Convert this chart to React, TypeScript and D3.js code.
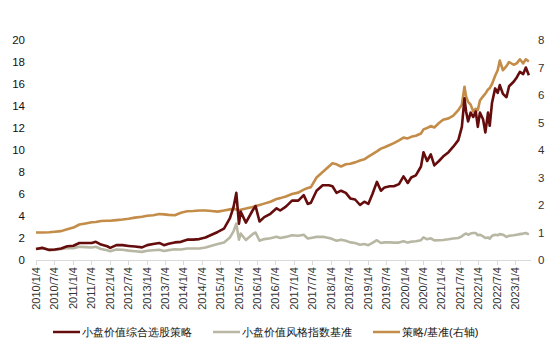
import React from "react";
import * as d3 from "d3";

// ---- data ----
const dates: string[] = [
  "2010-01-04","2010-03-10","2010-05-15","2010-07-10","2010-09-10","2010-11-10",
  "2011-01-10","2011-03-10","2011-05-10","2011-07-10","2011-08-20","2011-10-10","2011-12-10",
  "2012-01-10","2012-03-10","2012-05-10","2012-07-10","2012-09-10","2012-11-20",
  "2013-01-10","2013-03-10","2013-05-10","2013-06-25","2013-08-10","2013-10-10","2013-12-10",
  "2014-02-10","2014-04-10","2014-06-10","2014-08-10","2014-10-10","2014-12-10",
  "2015-02-10","2015-04-10","2015-05-15","2015-06-12","2015-07-08","2015-07-25","2015-09-15","2015-11-20","2015-12-20",
  "2016-01-28","2016-03-15","2016-05-15","2016-07-15","2016-08-20","2016-10-15","2016-12-15",
  "2017-02-15","2017-04-10","2017-05-20","2017-06-20","2017-08-15","2017-10-15","2017-12-15",
  "2018-01-20","2018-03-01","2018-04-15","2018-06-01","2018-07-15","2018-09-01","2018-10-20","2018-12-01",
  "2019-01-10","2019-02-20","2019-04-05","2019-05-15","2019-06-20","2019-08-10","2019-09-20","2019-11-10","2019-12-25",
  "2020-02-05","2020-03-10","2020-04-25","2020-06-15","2020-07-10","2020-08-15","2020-09-20","2020-10-25","2020-12-10",
  "2021-01-20","2021-03-15","2021-05-01","2021-06-20","2021-07-25","2021-08-20","2021-09-05","2021-09-25","2021-10-20",
  "2021-11-15","2021-12-10","2021-12-30",
  "2022-01-20","2022-02-20","2022-03-15","2022-04-10","2022-04-27","2022-05-20","2022-06-20","2022-07-15","2022-08-05",
  "2022-09-05","2022-10-10","2022-11-05","2022-12-20",
  "2023-01-20","2023-02-20","2023-03-25","2023-04-20","2023-05-20",
];

const strategy: number[] = [
  1.0,1.1,0.92,0.95,1.05,1.25,
  1.3,1.55,1.55,1.55,1.65,1.4,1.25,
  1.1,1.35,1.35,1.28,1.22,1.15,
  1.35,1.45,1.55,1.35,1.48,1.6,1.65,
  1.85,1.85,1.9,2.05,2.3,2.55,
  2.85,3.8,4.8,6.1,3.3,4.4,3.4,4.5,4.9,
  3.5,3.9,4.2,4.7,4.5,4.85,5.4,
  5.4,5.9,5.1,5.2,6.3,6.8,6.8,
  6.7,6.1,6.3,6.1,5.6,5.5,5.0,5.3,
  5.1,6.0,7.1,6.3,6.6,6.7,6.7,6.9,7.6,
  7.0,7.5,7.7,8.5,9.8,9.0,9.6,8.6,9.0,
  9.4,9.8,10.3,10.9,12.1,14.7,13.5,12.6,13.4,
  13.0,13.5,12.1,
  13.4,12.8,11.6,13.4,12.2,14.3,15.6,15.2,15.9,
  15.1,14.8,15.8,16.2,
  16.6,17.1,16.9,17.5,16.8,
];

const benchmark: number[] = [
  1.0,1.12,0.92,0.92,1.0,1.1,
  1.08,1.2,1.17,1.13,1.2,1.0,0.88,
  0.8,0.95,0.93,0.85,0.8,0.74,
  0.84,0.88,0.93,0.82,0.9,0.97,0.95,
  1.05,1.04,1.05,1.14,1.3,1.45,
  1.6,2.05,2.6,3.3,1.85,2.4,1.82,2.35,2.5,
  1.75,1.9,1.98,2.12,2.0,2.1,2.25,
  2.2,2.3,1.95,2.0,2.1,2.12,2.0,
  1.9,1.75,1.85,1.75,1.6,1.55,1.38,1.45,
  1.35,1.55,1.8,1.55,1.6,1.6,1.58,1.58,1.7,
  1.58,1.67,1.7,1.8,2.05,1.88,1.97,1.78,1.8,
  1.82,1.88,1.96,2.0,2.15,2.35,2.4,2.3,2.4,
  2.45,2.45,2.25,
  2.3,2.15,2.0,2.05,1.95,2.2,2.3,2.25,2.35,
  2.3,2.1,2.2,2.25,
  2.3,2.35,2.4,2.45,2.33,
];

const ratio: number[] = [
  1.0,1.0,1.01,1.03,1.05,1.12,
  1.18,1.29,1.33,1.37,1.38,1.42,1.43,
  1.43,1.45,1.47,1.5,1.54,1.57,
  1.61,1.63,1.67,1.66,1.64,1.63,1.72,
  1.77,1.78,1.8,1.8,1.78,1.76,
  1.8,1.84,1.86,1.84,1.8,1.83,1.87,1.93,1.96,
  2.0,2.05,2.12,2.22,2.25,2.31,2.4,
  2.45,2.56,2.62,2.65,3.0,3.2,3.4,
  3.52,3.48,3.4,3.48,3.5,3.55,3.62,3.66,
  3.76,3.85,3.95,4.05,4.1,4.18,4.25,4.35,4.45,
  4.42,4.48,4.52,4.6,4.75,4.8,4.87,4.82,4.98,
  5.1,5.15,5.25,5.45,5.65,6.3,5.95,5.75,5.65,
  5.4,5.5,5.45,
  5.8,5.95,6.05,6.2,6.25,6.4,6.7,6.9,7.25,
  6.9,7.05,7.2,7.1,
  7.15,7.3,7.15,7.3,7.22,
];

const tickLabels: string[] = [
  "2010/1/4","2010/7/4","2011/1/4","2011/7/4","2012/1/4","2012/7/4","2013/1/4","2013/7/4",
  "2014/1/4","2014/7/4","2015/1/4","2015/7/4","2016/1/4","2016/7/4","2017/1/4","2017/7/4",
  "2018/1/4","2018/7/4","2019/1/4","2019/7/4","2020/1/4","2020/7/4","2021/1/4","2021/7/4",
  "2022/1/4","2022/7/4","2023/1/4",
];
const leftTicks: number[] = [0,2,4,6,8,10,12,14,16,18,20];
const rightTicks: number[] = [0,1,2,3,4,5,6,7,8];

const seriesNames: string[] = ["小盘价值综合选股策略", "小盘价值风格指数基准", "策略/基准(右轴)"];
const seriesColors: string[] = ["#650c0c", "#b8b7a3", "#c38c48"];

export default function App() {
  const W = 556, H = 352;
  const parse = d3.timeParse("%Y-%m-%d");
  const parseTick = d3.timeParse("%Y/%m/%d");
  const xs = dates.map((d) => parse(d) as Date);

  const x = d3.scaleTime()
    .domain([parse("2010-01-04") as Date, parse("2023-06-30") as Date])
    .range([36, 533]);
  const yL = d3.scaleLinear().domain([0, 20]).range([260, 40]);
  const yR = d3.scaleLinear().domain([0, 8]).range([260, 40]);

  const mk = (vals: number[], y: d3.ScaleLinear<number, number>) =>
    d3.line<number>()
      .x((_, i) => x(xs[i]))
      .y((v) => y(v))(vals) as string;

  const font = "'Liberation Sans', Arial, sans-serif";
  const legendX = [53, 213, 373];

  return (
    <svg width={W} height={H} style={{ position: "absolute", left: 0, top: 0, background: "#fff" }}
      fontFamily={font}>
      {/* x axis */}
      <line x1={36} x2={531} y1={260.5} y2={260.5} stroke="#d9d9d9" strokeWidth={1} />
      {tickLabels.map((t) => {
        const px = Math.round(x(parseTick(t) as Date)) + 0.5;
        return (
          <g key={t}>
            <line x1={px} x2={px} y1={260} y2={265} stroke="#d9d9d9" />
            <text transform={`translate(${px},267) rotate(-90)`} textAnchor="end" dy="0.35em"
              fontSize={11} fill="#333">{t}</text>
          </g>
        );
      })}
      {/* left axis labels */}
      {leftTicks.map((v) => (
        <text key={"l" + v} x={25} y={yL(v)} dy="0.35em" textAnchor="end" fontSize={11.5} fill="#111">{v}</text>
      ))}
      {/* right axis labels */}
      {rightTicks.map((v) => (
        <text key={"r" + v} x={538} y={yR(v)} dy="0.35em" textAnchor="start" fontSize={11.5} fill="#333">{v}</text>
      ))}
      {/* lines */}
      <path d={mk(ratio, yR)} fill="none" stroke={seriesColors[2]} strokeWidth={2.6} strokeLinejoin="round" />
      <path d={mk(benchmark, yL)} fill="none" stroke={seriesColors[1]} strokeWidth={2.6} strokeLinejoin="round" />
      <path d={mk(strategy, yL)} fill="none" stroke={seriesColors[0]} strokeWidth={2.6} strokeLinejoin="round" />
      {/* legend */}
      {seriesNames.map((n, i) => (
        <g key={n}>
          <line x1={legendX[i]} x2={legendX[i] + 27} y1={332} y2={332} stroke={seriesColors[i]} strokeWidth={2.5} />
          <text x={legendX[i] + 29} y={332} dy="0.35em" fontSize={11} fill="#111">{n}</text>
        </g>
      ))}
    </svg>
  );
}
